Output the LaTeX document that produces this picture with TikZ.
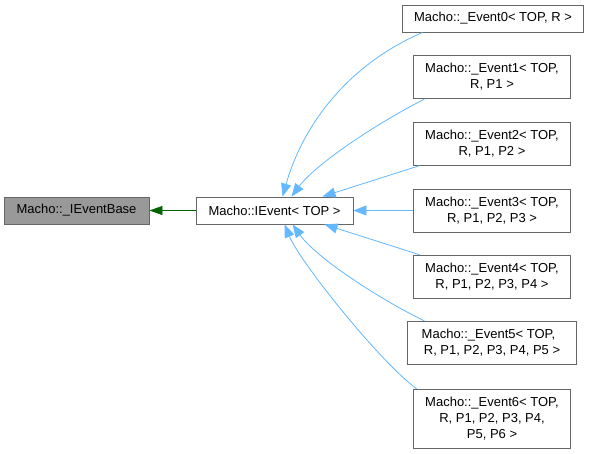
\documentclass[tikz,border=0pt]{standalone}
\usepackage{fontspec}
\setmainfont{Liberation Sans}
\usetikzlibrary{arrows.meta}
\definecolor{boxborder}{HTML}{666666}
\definecolor{basefill}{HTML}{999999}
\definecolor{edgeblue}{HTML}{63B8FF}
\definecolor{edgegreen}{HTML}{006400}
\begin{document}
\begin{tikzpicture}[x=1pt,y=-1pt,
  cls/.style={draw=boxborder, fill=white, line width=0.9pt, inner sep=0pt,
    font=\fontsize{13}{16}\selectfont, align=center, text=black},
  basecls/.style={cls, fill=basefill},
  inh/.style={draw=edgeblue, line width=0.8pt, -{Triangle[length=13pt,width=10pt]}},
  usedby/.style={draw=edgegreen, line width=0.8pt, -{Triangle[length=13pt,width=9pt]}}]
\useasboundingbox (0,0) rectangle (589,453);
\fill[white] (0,0) rectangle (589,453);

\node[basecls, minimum width=145pt, minimum height=27pt] (base) at (76.5,210.5) {Macho::\_IEventBase};
\node[cls, minimum width=157pt, minimum height=27pt] (iev) at (274.5,210.5) {Macho::IEvent< TOP >};

\node[cls, minimum width=181pt, minimum height=27pt] (e0) at (493,18.5) {Macho::\_Event0< TOP, R >};
\node[cls, minimum width=157pt, minimum height=43pt] (e1) at (492,77) {Macho::\_Event1< TOP,\\R, P1 >};
\node[cls, minimum width=157pt, minimum height=43pt] (e2) at (492,143.7) {Macho::\_Event2< TOP,\\R, P1, P2 >};
\node[cls, minimum width=157pt, minimum height=43pt] (e3) at (492,210.5) {Macho::\_Event3< TOP,\\R, P1, P2, P3 >};
\node[cls, minimum width=157pt, minimum height=43pt] (e4) at (492,276.7) {Macho::\_Event4< TOP,\\R, P1, P2, P3, P4 >};
\node[cls, minimum width=169pt, minimum height=43pt] (e5) at (492,343) {Macho::\_Event5< TOP,\hspace*{7pt}\\R, P1, P2, P3, P4, P5 >};
\node[cls, minimum width=157pt, minimum height=59pt] (e6) at (492,418.7) {Macho::\_Event6< TOP,\\R, P1, P2, P3, P4,\hspace*{22pt}\\P5, P6 >};

% inheritance edges
\draw[inh] ([xshift=20.5pt]e0.south west) .. controls (345,66) and (302,128) .. ([xshift=87pt]iev.north west);
\draw[inh] ([xshift=11.5pt]e1.south west) .. controls (372,126) and (315,165) .. ([xshift=96pt]iev.north west);
\draw[inh] ([xshift=6.5pt]e2.south west) -- ([xshift=127pt]iev.north west);
\draw[inh] (e3.west) -- (iev.east);
\draw[inh] ([xshift=6.5pt]e4.north west) -- ([xshift=129pt]iev.south west);
\draw[inh] ([xshift=17.5pt]e5.north west) .. controls (372,295) and (315,256) .. ([xshift=97pt]iev.south west);
\draw[inh] ([xshift=3.5pt]e6.north west) .. controls (380,362) and (300,262) .. ([xshift=89pt]iev.south west);

% usage edge
\draw[usedby] (iev.west) -- (base.east);
\end{tikzpicture}
\end{document}
